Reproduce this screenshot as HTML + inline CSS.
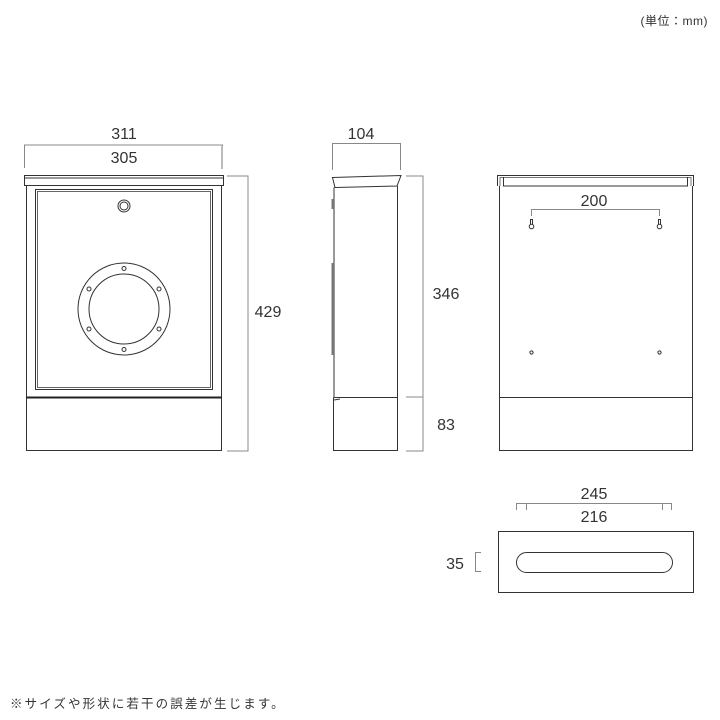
<!DOCTYPE html>
<html><head><meta charset="utf-8"><style>
html,body{margin:0;padding:0;background:#fff;width:720px;height:720px;overflow:hidden}
svg{display:block}
text{font-family:"Liberation Sans","Noto Sans CJK JP",sans-serif;fill:#333}
</style></head><body>
<svg width="720" height="720" viewBox="0 0 720 720" xmlns="http://www.w3.org/2000/svg">
<text x="708" y="25" font-size="12" text-anchor="end" letter-spacing="0.5">(単位：mm)</text>
<text x="10" y="708" font-size="12.5" letter-spacing="2.1">※サイズや形状に若干の誤差が生じます。</text>

<!-- FRONT -->
<g fill="none" stroke="#888" stroke-width="1">
<path d="M24.5 168 V145 H222.5 V168"/>
<path d="M227 176 H248 V451 H227"/>
</g>
<path d="M222 146 V169" stroke="#bbb" stroke-width="2"/>
<text x="124" y="139" font-size="16" text-anchor="middle">311</text>
<text x="124" y="163" font-size="16" text-anchor="middle">305</text>
<text x="268" y="317" font-size="16" text-anchor="middle">429</text>
<g fill="none" stroke="#333" stroke-width="1">
<rect x="24.5" y="175.5" width="199" height="10"/>
<path d="M24.5 178 H223.5"/>
<rect x="26.5" y="185.5" width="195" height="265"/>
<rect x="35.5" y="189.5" width="177" height="200"/>
<rect x="37.5" y="191.5" width="173" height="196" stroke="#666"/>
<circle cx="124" cy="206" r="6"/>
<circle cx="124" cy="206" r="4"/>
<circle cx="124" cy="309" r="46"/>
<circle cx="124" cy="309" r="35"/>
<circle cx="124" cy="268.5" r="2"/>
<circle cx="124" cy="349.5" r="2"/>
<circle cx="89" cy="289" r="2"/>
<circle cx="159" cy="289" r="2"/>
<circle cx="89" cy="329" r="2"/>
<circle cx="159" cy="329" r="2"/>
</g>
<path d="M26 397.5 H222" stroke="#222" stroke-width="2"/>

<!-- SIDE -->
<g fill="none" stroke="#888" stroke-width="1">
<path d="M332.5 170 V143.5 H400.5 V170"/>
<path d="M406 176 H423 V451 H406 M406 397 H423"/>
</g>
<text x="361" y="139" font-size="16" text-anchor="middle">104</text>
<text x="446" y="299" font-size="16" text-anchor="middle">346</text>
<text x="446" y="430" font-size="16" text-anchor="middle">83</text>
<g fill="none" stroke="#333" stroke-width="1">
<path d="M332.5 177.5 L401 175.5 L397 186 L335 187.5 Z"/>
<path d="M334 187.5 V397 M397.5 186 V451 M333.5 397.5 H397.5 M333.5 397.5 V451 M333.5 450.5 H397.5 M334 400 L340 399"/>
</g>
<rect x="331.5" y="199" width="2.5" height="10" fill="#777"/>
<rect x="331.5" y="263" width="2.5" height="92" fill="#777"/>

<!-- BACK -->
<g fill="none" stroke="#333" stroke-width="1">
<path d="M497.5 186 V175.5 H693.5 V186"/>
<path d="M500 186 V177.5 H691 V186" stroke="#777"/>
<path d="M503.5 177 V186 H687.5 V177"/>
<path d="M499.5 186 V450.5 H692.5 V186"/>
<path d="M499.5 397.5 H692.5"/>
<circle cx="531.5" cy="352.5" r="1.6"/>
<circle cx="659.5" cy="352.5" r="1.6"/>
<circle cx="531.5" cy="226.5" r="2.3"/>
<circle cx="659.5" cy="226.5" r="2.3"/>
<path d="M530.5 224.5 V219.5 H532.5 V224.5 M658.5 224.5 V219.5 H660.5 V224.5"/>
</g>
<path d="M531.5 216 V209.5 H659.5 V216" fill="none" stroke="#888"/>
<text x="594" y="206" font-size="16" text-anchor="middle">200</text>

<!-- BOTTOM -->
<g fill="none" stroke="#888" stroke-width="1">
<path d="M516.5 510 V503.5 H671.5 V510 M526.5 503.5 V510 M662.5 503.5 V510"/>
<path d="M481 552.5 H475.5 V571.5 H481"/>
</g>
<text x="594" y="499" font-size="16" text-anchor="middle">245</text>
<text x="594" y="522" font-size="16" text-anchor="middle">216</text>
<text x="455" y="569" font-size="16" text-anchor="middle">35</text>
<g fill="none" stroke="#333" stroke-width="1">
<rect x="498.5" y="531.5" width="195" height="61"/>
<rect x="516.5" y="552.5" width="156" height="20" rx="10"/>
</g>
</svg>
</body></html>
